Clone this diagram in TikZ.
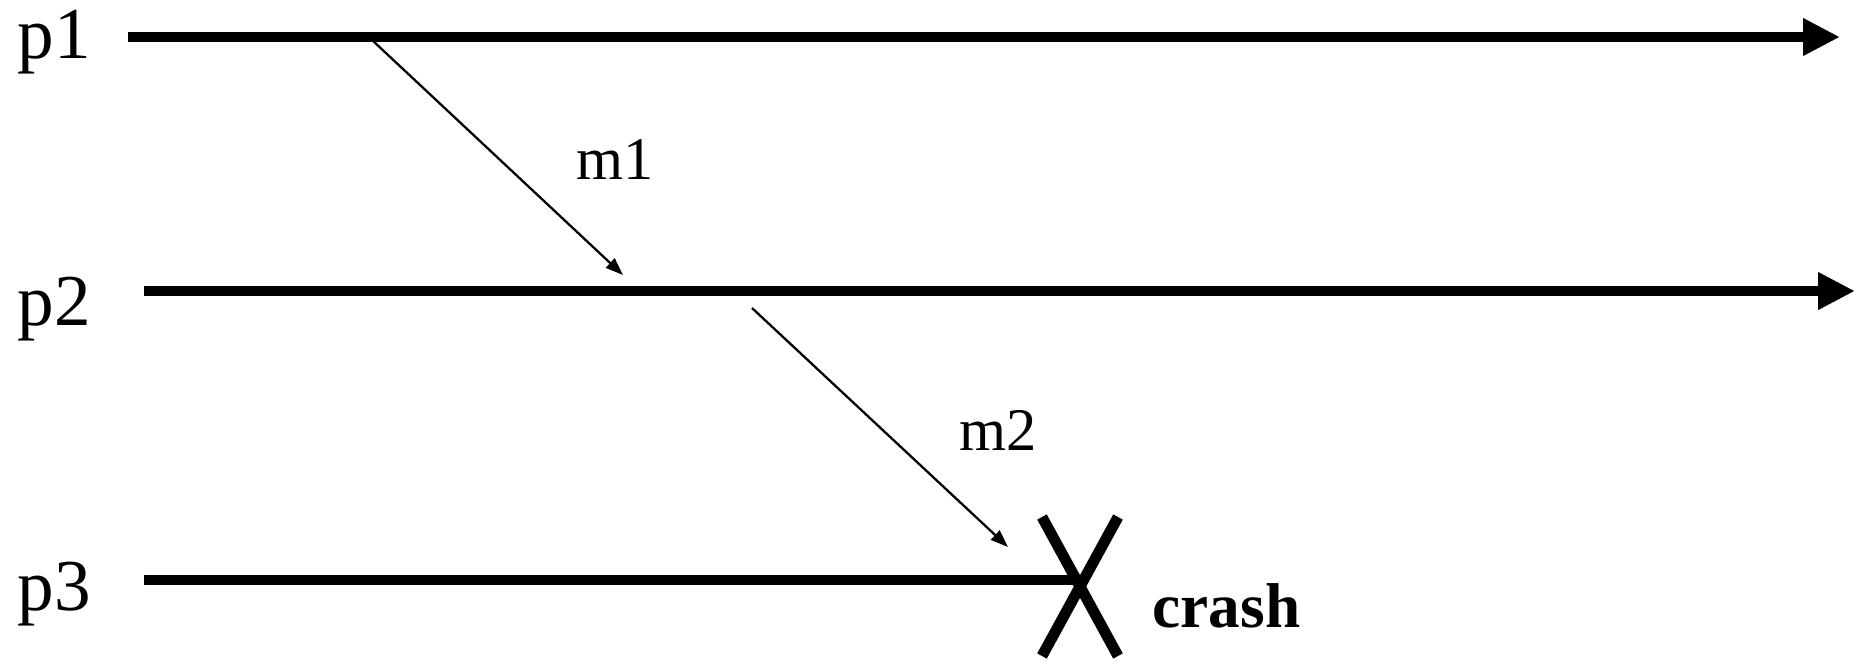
\documentclass[tikz,border=0pt]{standalone}
\usepackage{fontspec}
\setmainfont{Liberation Serif}
\usetikzlibrary{arrows.meta,positioning}

\tikzset{
  procline/.style={line width=3pt,-{Triangle[length=10.5pt,width=10pt]}},
  msgline/.style={line width=0.65pt,-{Triangle[length=5pt,width=3.6pt]}},
  crossline/.style={line width=3.1pt},
  proclabel/.style={anchor=base west,inner sep=0pt,font=\fontsize{20.8}{24}\selectfont},
  msglabel/.style={anchor=base west,inner sep=0pt,font=\fontsize{17.2}{20}\selectfont},
}

\begin{document}
\begin{tikzpicture}[x=0.01cm,y=-0.01cm]
  \useasboundingbox (0,0) rectangle (1866,663);
  % processes
  \node[proclabel] (p1) at (17,58) {p1};
  \node[proclabel] (p2) at (17,325) {p2};
  \node[proclabel] (p3) at (17,610) {p3};
  \coordinate (p1start) at (128,37);
  \coordinate (p1end) at (1840,37);
  \coordinate (p2start) at (144,291);
  \coordinate (p2end) at (1855,291);
  \coordinate (p3start) at (144,580);
  \coordinate (crashpt) at (1080,580);
  \draw[procline] (p1start) -- (p1end);
  \draw[procline] (p2start) -- (p2end);
  \draw[line width=3pt] (p3start) -- (crashpt);
  % crash mark
  \coordinate (xtl) at (1042,517);
  \coordinate (xbr) at (1118,656);
  \coordinate (xtr) at (1118,517);
  \coordinate (xbl) at (1042,656);
  \draw[crossline] (xtl) -- (xbr);
  \draw[crossline] (xtr) -- (xbl);
  \node[anchor=base west,inner sep=0pt,font=\fontsize{18}{21}\selectfont\bfseries]
    (crash) at (1152,627) {crash};
  % messages
  \coordinate (m1from) at (372,40);
  \coordinate (m1to) at (623,275);
  \coordinate (m2from) at (752,308);
  \coordinate (m2to) at (1008,547);
  \draw[msgline] (m1from) -- (m1to);
  \draw[msgline] (m2from) -- (m2to);
  \node[msglabel] (m1) at (576,179) {m1};
  \node[msglabel] (m2) at (959,450) {m2};
\end{tikzpicture}
\end{document}
